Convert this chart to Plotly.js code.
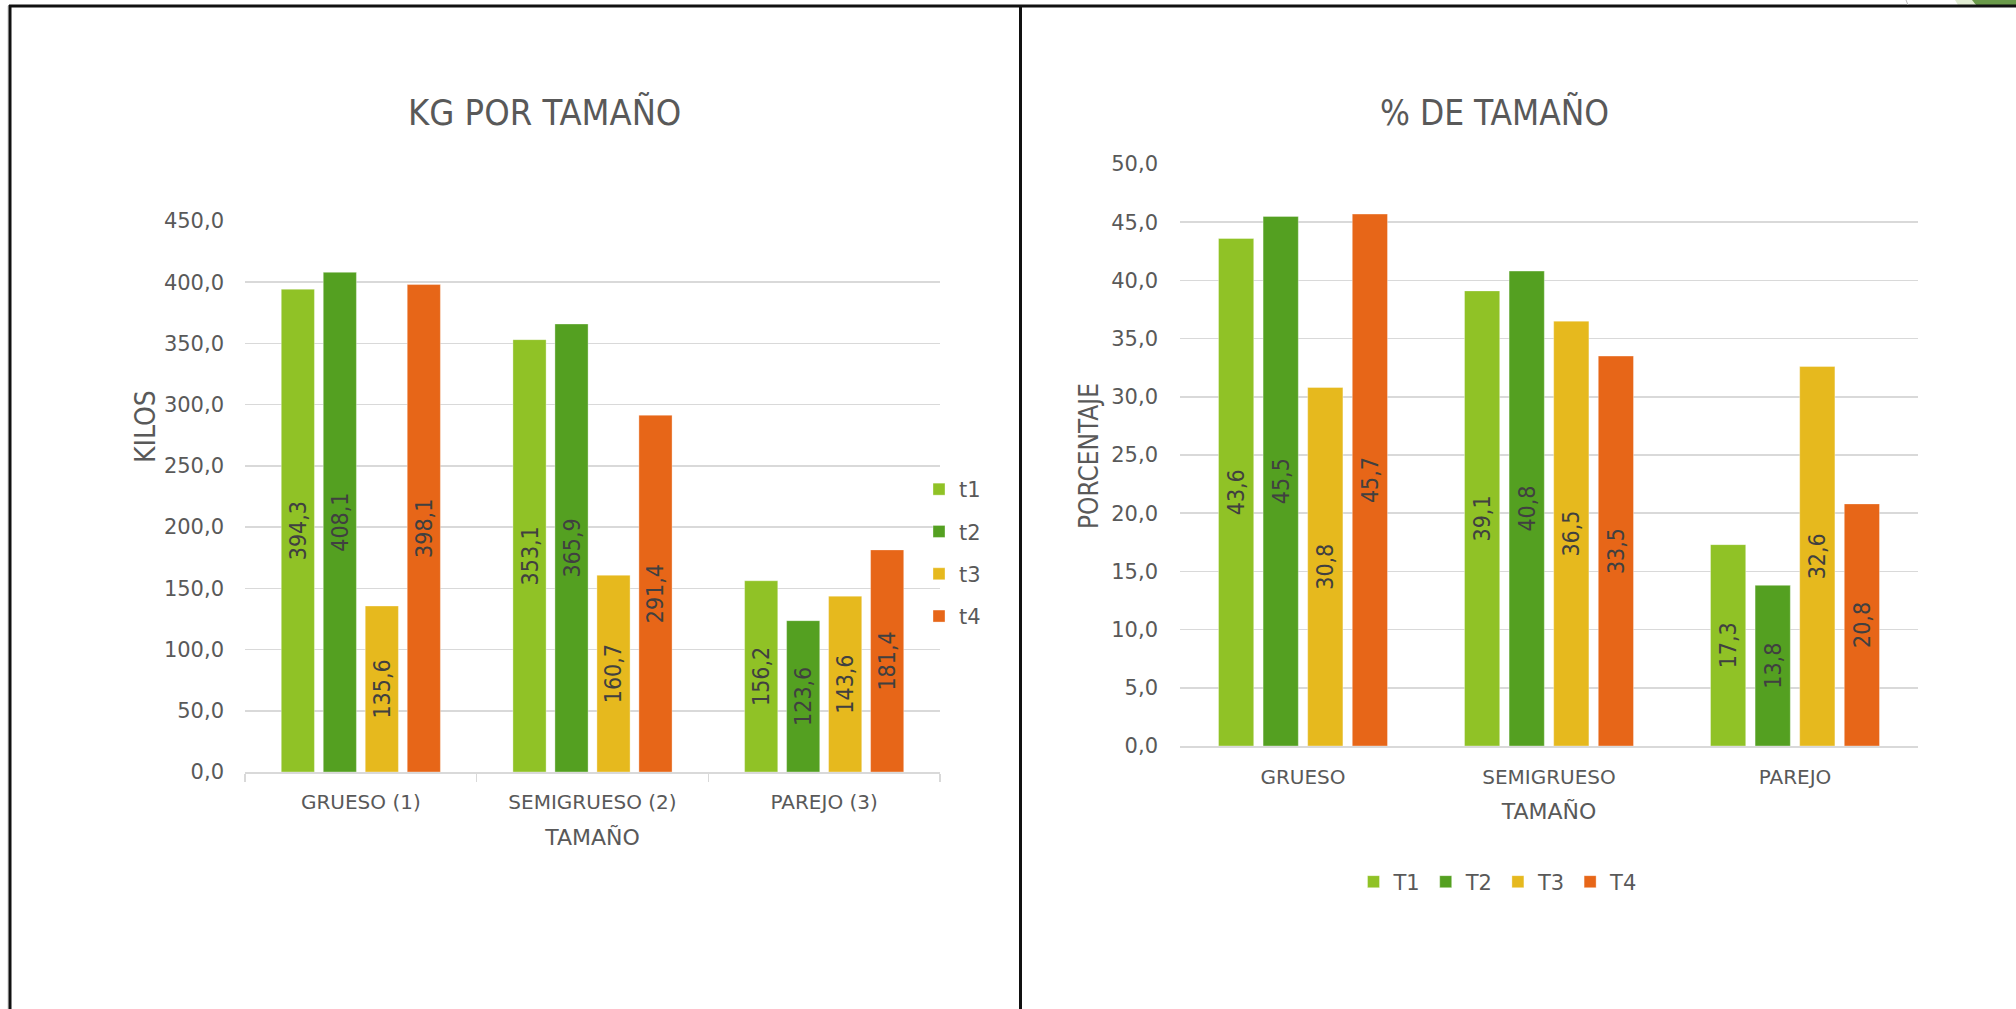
<!DOCTYPE html>
<html>
<head>
<meta charset="utf-8">
<script src="https://cdn.plot.ly/plotly-3.0.1.min.js"></script>
<style>
  html, body { margin: 0; padding: 0; background: #ffffff; overflow: hidden; }
  #chart { width: 2016px; height: 1009px; }
</style>
</head>
<body>
<div id="chart"></div>
<script>
// ---- Data ----
const categoriesKg = ['GRUESO (1)', 'SEMIGRUESO (2)', 'PAREJO (3)'];
const seriesNamesKg = ['t1', 't2', 't3', 't4'];
const kgT1 = [394.3, 353.1, 156.2];
const kgT2 = [408.1, 365.9, 123.6];
const kgT3 = [135.6, 160.7, 143.6];
const kgT4 = [398.1, 291.4, 181.4];

const categoriesPct = ['GRUESO', 'SEMIGRUESO', 'PAREJO'];
const seriesNamesPct = ['T1', 'T2', 'T3', 'T4'];
const pctT1 = [43.6, 39.1, 17.3];
const pctT2 = [45.5, 40.8, 13.8];
const pctT3 = [30.8, 36.5, 32.6];
const pctT4 = [45.7, 33.5, 20.8];

// ---- Styles ----
const W = 2016, H = 1009;
const px = x => x / W;
const py = y => 1 - y / H;
const colors = ['#90C226', '#54A021', '#E6B91E', '#E76618'];
const WIDE = "'DejaVu Sans', 'Open Sans', sans-serif";
const NARROW = "'DejaVu Sans Condensed', 'Liberation Sans Narrow', 'DejaVu Sans', sans-serif";
const GREY = '#595959';
const GRID = '#D9D9D9';

const kgSeries = [kgT1, kgT2, kgT3, kgT4];
const pctSeries = [pctT1, pctT2, pctT3, pctT4];

function barTrace(cats, vals, name, i, xa, ya, legend, group) {
  return {
    type: 'bar',
    x: cats,
    y: vals,
    name: name,
    xaxis: xa,
    yaxis: ya,
    legend: legend,
    legendgroup: group + i,
    marker: { color: colors[i], line: { color: 'rgba(255,255,255,0.35)', width: 1 } },
    texttemplate: '%{y:.1f}',
    textposition: 'inside',
    insidetextanchor: 'middle',
    textangle: -90,
    constraintext: 'none',
    textfont: { family: NARROW, size: 23, color: '#404040' },
    hoverinfo: 'skip'
  };
}

const data = [];
kgSeries.forEach((v, i) => data.push(barTrace(categoriesKg, v, seriesNamesKg[i], i, 'x', 'y', 'legend', 'k')));
pctSeries.forEach((v, i) => data.push(barTrace(categoriesPct, v, seriesNamesPct[i], i, 'x2', 'y2', 'legend2', 'p')));

const borderColor = '#111111';
const layout = {
  width: W,
  height: H,
  margin: { l: 0, r: 0, t: 0, b: 0 },
  paper_bgcolor: '#ffffff',
  plot_bgcolor: '#ffffff',
  separators: ',.',
  barmode: 'group',
  bargap: 0.275,
  bargroupgap: 0.21,
  showlegend: true,
  font: { family: WIDE, color: GREY },
  xaxis: {
    domain: [px(245), px(940)],
    anchor: 'y',
    type: 'category',
    showline: true, linecolor: GRID, linewidth: 1.5,
    ticks: 'outside', tickson: 'boundaries', ticklen: 8, tickcolor: GRID, tickwidth: 1.5,
    showgrid: false, zeroline: false,
    tickfont: { family: WIDE, size: 20, color: GREY },
    ticklabelstandoff: 11,
    title: { text: 'TAMAÑO', font: { family: WIDE, size: 22, color: GREY }, standoff: 17 },
    fixedrange: true
  },
  yaxis: {
    domain: [py(772), py(221)],
    anchor: 'x',
    range: [0, 450],
    dtick: 50,
    tickformat: '.1f',
    showgrid: true, gridcolor: GRID, gridwidth: 1.5,
    zeroline: false, showline: false, ticks: '',
    tickfont: { family: WIDE, size: 21, color: GREY },
    ticklabelstandoff: 20,
    fixedrange: true
  },
  xaxis2: {
    domain: [px(1180), px(1918)],
    anchor: 'y2',
    type: 'category',
    showline: true, linecolor: GRID, linewidth: 1.5,
    ticks: '', showgrid: false, zeroline: false,
    tickfont: { family: WIDE, size: 20, color: GREY },
    ticklabelstandoff: 12,
    title: { text: 'TAMAÑO', font: { family: WIDE, size: 22, color: GREY }, standoff: 16 },
    fixedrange: true
  },
  yaxis2: {
    domain: [py(746), py(164)],
    anchor: 'x2',
    range: [0, 50],
    dtick: 5,
    tickformat: '.1f',
    showgrid: true, gridcolor: GRID, gridwidth: 1.5,
    zeroline: false, showline: false, ticks: '',
    tickfont: { family: WIDE, size: 21, color: GREY },
    ticklabelstandoff: 21,
    fixedrange: true
  },
  legend: {
    x: px(919), xanchor: 'left',
    y: py(553), yanchor: 'middle',
    orientation: 'v',
    font: { family: WIDE, size: 21, color: GREY },
    bgcolor: 'rgba(0,0,0,0)',
    tracegroupgap: 12,
    itemclick: false, itemdoubleclick: false
  },
  legend2: {
    x: px(1498), xanchor: 'center',
    y: py(882), yanchor: 'middle',
    orientation: 'h',
    font: { family: WIDE, size: 21, color: GREY },
    bgcolor: 'rgba(0,0,0,0)',
    itemclick: false, itemdoubleclick: false
  },
  annotations: [
    { text: 'KG POR TAMAÑO', xref: 'paper', yref: 'paper', x: px(544), y: py(112),
      xanchor: 'center', yanchor: 'middle', showarrow: false,
      font: { family: NARROW, size: 36, color: GREY } },
    { text: '% DE TAMAÑO', xref: 'paper', yref: 'paper', x: px(1494), y: py(112),
      xanchor: 'center', yanchor: 'middle', showarrow: false,
      font: { family: NARROW, size: 35, color: GREY } },
    { text: 'KILOS', xref: 'paper', yref: 'paper', x: px(145), y: py(427),
      xanchor: 'center', yanchor: 'middle', showarrow: false, textangle: -90,
      font: { family: NARROW, size: 28, color: GREY } },
    { text: 'PORCENTAJE', xref: 'paper', yref: 'paper', x: px(1089), y: py(456),
      xanchor: 'center', yanchor: 'middle', showarrow: false, textangle: -90,
      font: { family: NARROW, size: 26, color: GREY } }
  ],
  shapes: [
    // outer frame and divider
    { type: 'line', xref: 'paper', yref: 'paper', x0: px(8), x1: px(8), y0: py(6), y1: 0, line: { color: '#cfcfcf', width: 1 } },
    { type: 'line', xref: 'paper', yref: 'paper', x0: px(9), x1: px(W), y0: py(6), y1: py(6), line: { color: borderColor, width: 3 } },
    { type: 'line', xref: 'paper', yref: 'paper', x0: px(10), x1: px(10), y0: py(5), y1: 0, line: { color: borderColor, width: 3 } },
    { type: 'line', xref: 'paper', yref: 'paper', x0: px(1020.5), x1: px(1020.5), y0: py(5), y1: 0, line: { color: borderColor, width: 3 } },
    // corner decoration at top right
    { type: 'path', xref: 'paper', yref: 'paper', layer: 'below',
      path: 'M ' + px(1955) + ' ' + py(0) + ' L ' + px(1975) + ' ' + py(0) + ' L ' + px(1975) + ' ' + py(5) + ' L ' + px(1958) + ' ' + py(5) + ' Z',
      fillcolor: '#E2EDD3', line: { width: 0 } },
    { type: 'path', xref: 'paper', yref: 'paper', layer: 'below',
      path: 'M ' + px(1972) + ' ' + py(0) + ' L ' + px(W) + ' ' + py(0) + ' L ' + px(W) + ' ' + py(5) + ' L ' + px(1976) + ' ' + py(5) + ' Z',
      fillcolor: '#6A9A4A', line: { width: 0 } },
    { type: 'line', xref: 'paper', yref: 'paper', x0: px(1906), x1: px(1908), y0: py(0), y1: py(5), line: { color: '#bbbbbb', width: 1 } }
  ]
};

Plotly.newPlot('chart', data, layout, { staticPlot: true, displayModeBar: false });
</script>
</body>
</html>
